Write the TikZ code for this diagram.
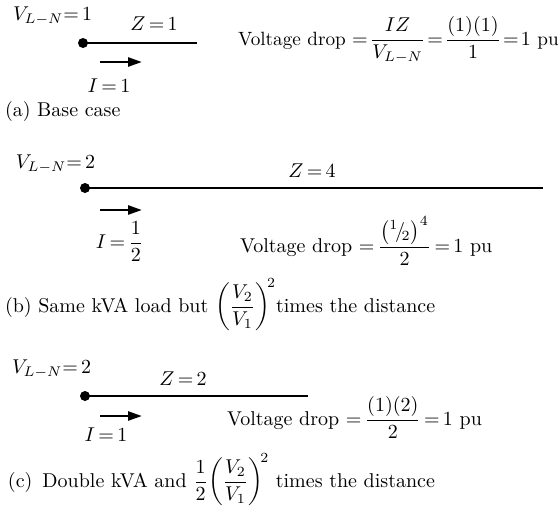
\documentclass[tikz,border=0pt]{standalone}
\usepackage{amsmath}
\usetikzlibrary{arrows.meta}
\AtBeginDocument{\thickmuskip=3mu plus 2mu\relax}
\begin{document}
\begin{tikzpicture}[x=0.5pt,y=-0.5pt,
  txt/.style={inner sep=0pt,outer sep=0pt,font=\fontsize{10}{12}\selectfont},
  feeder/.style={line width=0.75pt},
  dotnode/.style={circle,fill=black,inner sep=0pt,minimum size=5pt},
  curarrow/.style={line width=1.3pt,-{Triangle[length=7pt,width=4.5pt]}}]
\useasboundingbox (0,0) rectangle (558,510);
% ---------- (a)
\node[txt,anchor=base west] (va) at (13,20) {$V_{L-N}{=}\,1$};
\node[dotnode] (a0) at (83,43) {};
\coordinate (a1) at (197,43);
\draw[feeder] (a0.center) -- (a1);
\node[txt,anchor=base] (za) at (154,30) {$Z=1$};
\coordinate (ia0) at (100,62);
\coordinate (ia1) at (142,62);
\draw[curarrow] (ia0) -- (ia1);
\node[txt,anchor=base] (ia) at (109,92) {$I=1$};
\node[txt,anchor=base west] (capa) at (5,116) {(a) Base case};
\node[txt,anchor=base west,font=\fontsize{9.6}{12}\selectfont] (eqa) at (238,45) {Voltage drop $\thickmuskip=2mu\relax=\dfrac{IZ}{V_{L-N}}=\dfrac{(1)(1)}{1}=1$ pu};
% ---------- (b)
\node[txt,anchor=base west] (vb) at (16,168) {$V_{L-N}{=}\,2$};
\node[dotnode] (b0) at (85,188) {};
\coordinate (b1) at (543,188);
\draw[feeder] (b0.center) -- (b1);
\node[txt,anchor=base] (zb) at (312,177) {$Z=4$};
\coordinate (ib0) at (100,210);
\coordinate (ib1) at (142,210);
\draw[curarrow] (ib0) -- (ib1);
\node[txt,anchor=base west] (ib) at (96,248) {$I=\dfrac{1}{2}$};
\node[txt,anchor=base west] (eqb) at (240,252) {Voltage drop $=\dfrac{\bigl({}^{1}\!/\!{}_{2}\bigr)^{4}}{2}=1$ pu};
\node[txt,anchor=base west] (capb) at (5,312) {(b) Same kVA load but $\left(\dfrac{V_2}{V_1}\right)^{\!2}$times the distance};
% ---------- (c)
\node[txt,anchor=base west] (vc) at (12,373) {$V_{L-N}{=}\,2$};
\node[dotnode] (c0) at (85,396) {};
\coordinate (c1) at (308,396);
\draw[feeder] (c0.center) -- (c1);
\node[txt,anchor=base] (zc) at (183,385) {$Z=2$};
\coordinate (ic0) at (100,416);
\coordinate (ic1) at (142,416);
\draw[curarrow] (ic0) -- (ic1);
\node[txt,anchor=base] (ic) at (106,441) {$I=1$};
\node[txt,anchor=base west] (eqc) at (227,425) {Voltage drop $=\dfrac{(1)(2)}{2}=1$ pu};
\node[txt,anchor=base west] (capc) at (8,487) {(c)\hspace{0.5em}Double kVA and $\dfrac{1}{2}\!\left(\dfrac{V_2}{V_1}\right)^{\!2}$\ times the distance};
\end{tikzpicture}
\end{document}
